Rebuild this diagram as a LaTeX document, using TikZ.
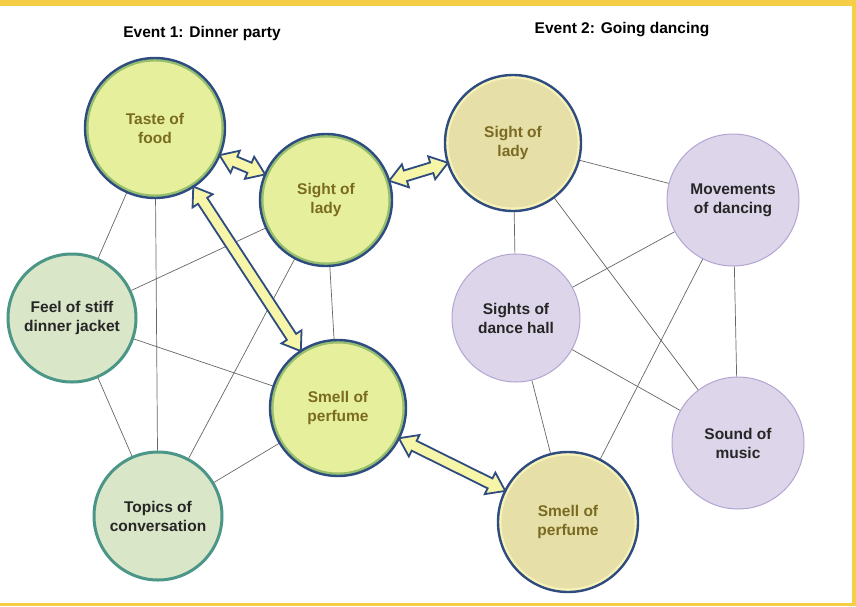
\documentclass[tikz,border=0pt]{standalone}
\usepackage{fontspec}
\setmainfont{Liberation Sans}
\usetikzlibrary{calc}
\definecolor{navy}{HTML}{2E4C80}
\definecolor{gring}{HTML}{96BE6E}
\definecolor{gfill}{HTML}{E6F09C}
\definecolor{teal2}{HTML}{4C9688}
\definecolor{tfill}{HTML}{D9E6C8}
\definecolor{tan1}{HTML}{E6DFA8}
\definecolor{tring}{HTML}{F7F3B8}
\definecolor{lav}{HTML}{DDD5EA}
\definecolor{lavline}{HTML}{B3A5D2}
\definecolor{olivetext}{HTML}{7A6A22}
\definecolor{frame}{HTML}{F5CE45}
\definecolor{arrfill}{HTML}{F7F6A8}
\tikzset{
 x=1pt,y=-1pt,
 lbl/.style={font=\fontsize{15.5}{19}\selectfont\bfseries, align=center},
 ev1/.style={circle, lbl, fill=gfill, draw=gring, line width=3pt, text=olivetext},
 tl/.style={circle, lbl, fill=tfill, draw=teal2, line width=3pt, text=black!85},
 ev2/.style={circle, lbl, fill=tan1, draw=tring, line width=3pt, text=olivetext},
 lv/.style={circle, lbl, fill=lav, draw=lavline, line width=1pt, text=black!85},
 link/.style={draw=black!60, line width=0.7pt},
 fat/.style={fill=arrfill, draw=navy, line width=1.8pt, line join=miter}
}
\newcommand\navyring[2]{\draw[navy, line width=2.4pt] (#1.center) circle (#2);}
\newcommand\fatarrow[4]{%
 \coordinate (S) at ($(#1.center)!#2!(#3.center)$);
 \coordinate (E) at ($(#3.center)!#4!(#1.center)$);
 \coordinate (s1) at ($(S)!17pt!(E)$);
 \coordinate (e1) at ($(E)!17pt!(S)$);
 \draw[fat] (S) -- ($(s1)!12pt!90:(E)$) -- ($(s1)!5.5pt!90:(E)$) -- ($(e1)!5.5pt!-90:(S)$) -- ($(e1)!12pt!-90:(S)$) -- (E)
  -- ($(e1)!12pt!90:(S)$) -- ($(e1)!5.5pt!90:(S)$) -- ($(s1)!5.5pt!-90:(E)$) -- ($(s1)!12pt!-90:(E)$) -- cycle;}
\begin{document}
\begin{tikzpicture}
\useasboundingbox (0,0) rectangle (856,606);
\fill[white] (0,0) rectangle (856,606);
\fill[frame] (0,0) rectangle (856,6);
\fill[frame] (852,0) rectangle (856,606);
\fill[frame] (0,603) rectangle (856,606);

\node[lbl, font=\fontsize{15.5}{18}\selectfont\bfseries] (t1) at (202,33) {Event 1: Dinner party};
\node[lbl, font=\fontsize{15.5}{18}\selectfont\bfseries] (t2) at (622,30) {Event 2: Going dancing};

\node[ev1, minimum size=136pt] (taste) at (155,128) {Taste of\\food};
\node[ev1, minimum size=128pt] (sightL) at (326,200) {Sight of\\lady};
\node[tl, minimum size=128pt] (feel) at (72,318) {Feel of stiff\\dinner jacket};
\node[ev1, minimum size=132pt] (smellL) at (338,408) {Smell of\\perfume};
\node[tl, minimum size=128pt] (topics) at (158,516) {Topics of\\conversation};
\node[ev2, minimum size=132pt] (sightR) at (513,143) {Sight of\\lady};
\node[lv, minimum size=132pt] (move) at (733,200) {Movements\\of dancing};
\node[lv, minimum size=128pt] (hall) at (516,318) {Sights of\\dance hall};
\node[lv, minimum size=132pt] (sound) at (738,443) {Sound of\\music};
\node[ev2, minimum size=136pt] (smellR) at (568,522) {Smell of\\perfume};

\foreach \a/\b in {taste/feel,taste/topics,sightL/feel,sightL/topics,sightL/smellL,feel/smellL,feel/topics,smellL/topics,
 sightR/move,sightR/hall,sightR/sound,move/hall,move/smellR,move/sound,hall/sound,hall/smellR}
 \draw[link] (\a) -- (\b);

\navyring{taste}{70}
\navyring{sightL}{66}
\navyring{smellL}{68}
\navyring{sightR}{68}
\navyring{smellR}{70}

\fatarrow{taste}{70pt}{sightL}{66pt}
\fatarrow{sightL}{66pt}{sightR}{68pt}
\fatarrow{taste}{70pt}{smellL}{68pt}
\fatarrow{smellL}{68pt}{smellR}{70pt}
\end{tikzpicture}
\end{document}
